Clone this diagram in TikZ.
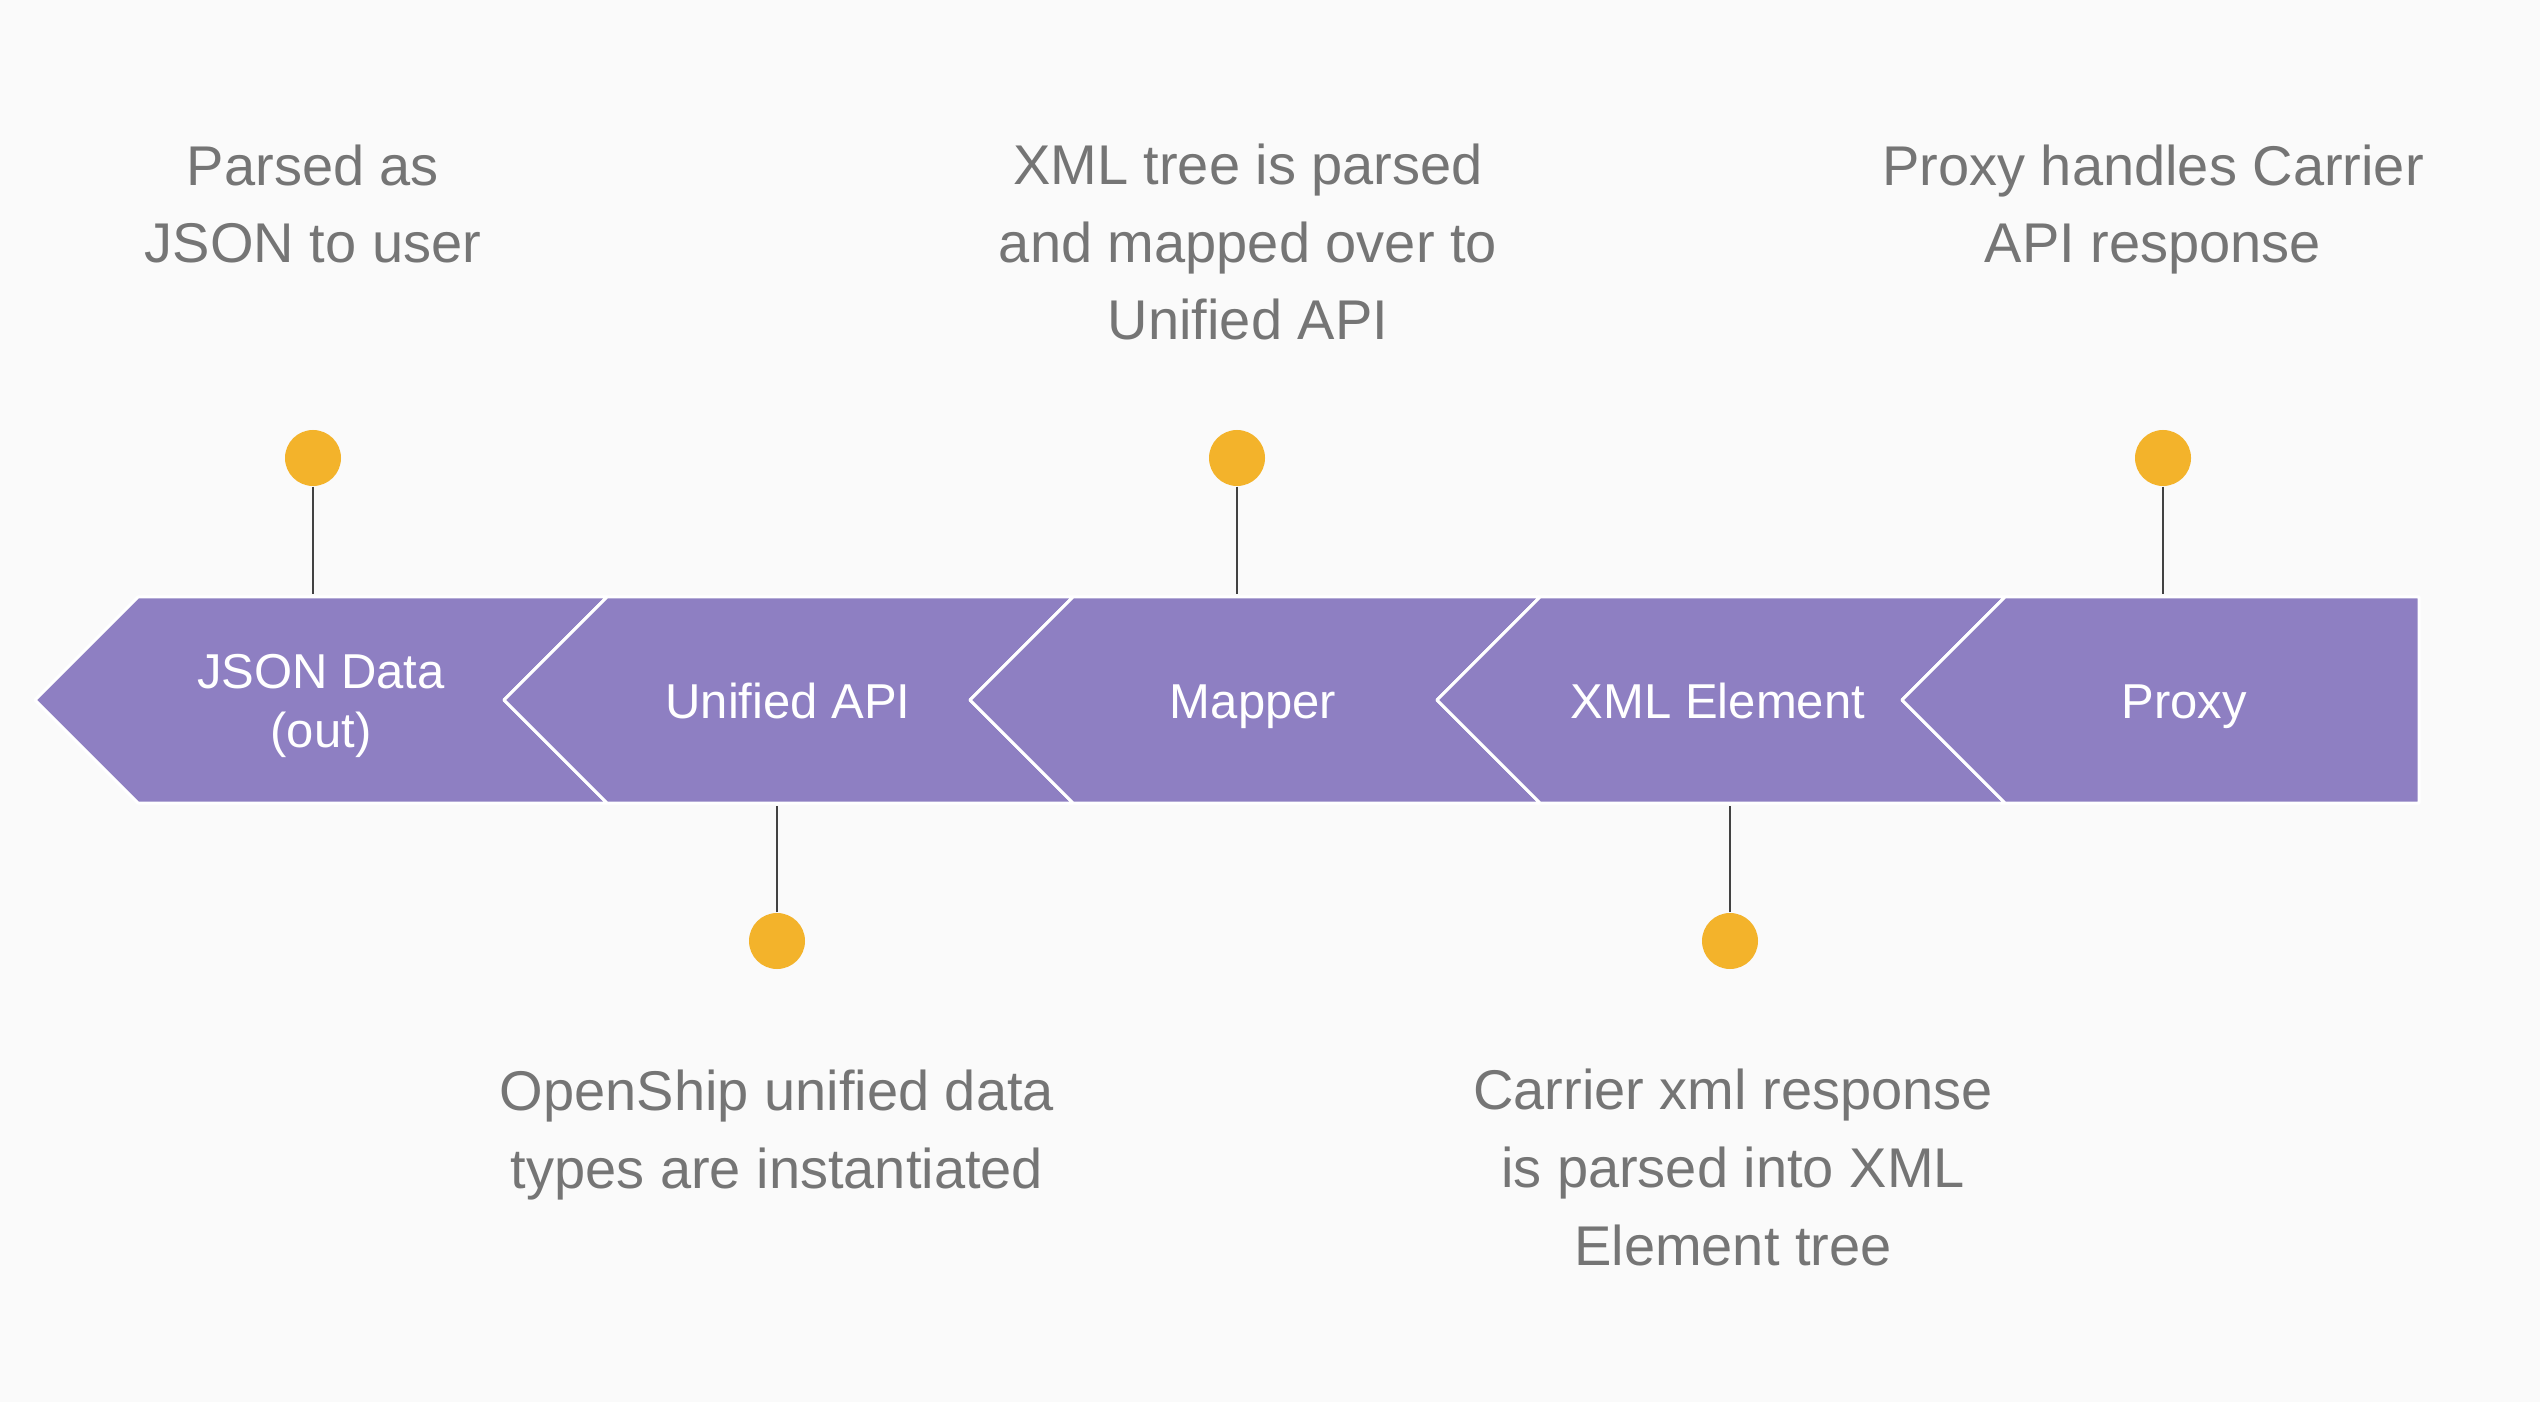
\documentclass[tikz,border=0pt]{standalone}
\usepackage{fontspec}
\setmainfont{Liberation Sans}
\definecolor{bgc}{HTML}{FAFAFA}
\definecolor{bandc}{HTML}{8E7FC2}
\definecolor{dotc}{HTML}{F3B32B}
\definecolor{txtc}{HTML}{757575}
\definecolor{stemc}{HTML}{424242}
\tikzset{
  seg/.style={fill=bandc,draw=white,line width=0.9pt,line join=round},
  dot/.style={circle,fill=dotc,minimum size=16.8pt,inner sep=0pt},
  stem/.style={draw=stemc,line width=0.6pt},
  note/.style={align=center,text=txtc,inner sep=0pt,anchor=base,font=\fontsize{16.8}{23.3}\selectfont},
  lab/.style={align=center,text=white,inner sep=0pt,anchor=base,font=\fontsize{14.7}{17.7}\selectfont}
}
\begin{document}
\begin{tikzpicture}[x=0.3pt,y=-0.3pt]
\fill[bgc] (0,0) rectangle (2540,1402);
\useasboundingbox (0,0) rectangle (2540,1402);
% band segments
\draw[seg] (35,700) -- (138,597) -- (607,597) -- (504,700) -- (607,803) -- (138,803) -- cycle;
\draw[seg] (504,700) -- (607,597) -- (1073,597) -- (970,700) -- (1073,803) -- (607,803) -- cycle;
\draw[seg] (970,700) -- (1073,597) -- (1540,597) -- (1437,700) -- (1540,803) -- (1073,803) -- cycle;
\draw[seg] (1437,700) -- (1540,597) -- (2005,597) -- (1902,700) -- (2005,803) -- (1540,803) -- cycle;
\draw[seg] (1902,700) -- (2005,597) -- (2419,597) -- (2419,803) -- (2005,803) -- cycle;
% band labels (base = last line baseline)
\node[lab] (l1) at (321,747) {JSON Data\\(out)};
\node[lab] (l2) at (788,719) {Unified API};
\node[lab] (l3) at (1253,719) {Mapper};
\node[lab] (l4) at (1718,719) {XML Element};
\node[lab] (l5) at (2184,719) {Proxy};
% dots
\node[dot] (c1) at (313,458) {};
\node[dot] (c3) at (1237,458) {};
\node[dot] (c5) at (2163,458) {};
\node[dot] (c2) at (777,941) {};
\node[dot] (c4) at (1730,941) {};
% stem ends on band
\coordinate (e1) at (313,594);
\coordinate (e3) at (1237,594);
\coordinate (e5) at (2163,594);
\coordinate (e2) at (777,806);
\coordinate (e4) at (1730,806);
\draw[stem] (c1.south) -- (e1);
\draw[stem] (c3.south) -- (e3);
\draw[stem] (c5.south) -- (e5);
\draw[stem] (c2.north) -- (e2);
\draw[stem] (c4.north) -- (e4);
% notes (base = last line baseline)
\node[note] (n1) at (313,263) {Parsed as\\JSON to user};
\node[note] (n3) at (1248,340) {XML tree is parsed\\and mapped over to\\Unified API};
\node[note] (n5) at (2153,263) {Proxy handles Carrier\\API response};
\node[note] (n2) at (777,1188) {OpenShip unified data\\types are instantiated};
\node[note] (n4) at (1733,1265) {Carrier xml response\\is parsed into XML\\Element tree};
\end{tikzpicture}
\end{document}
